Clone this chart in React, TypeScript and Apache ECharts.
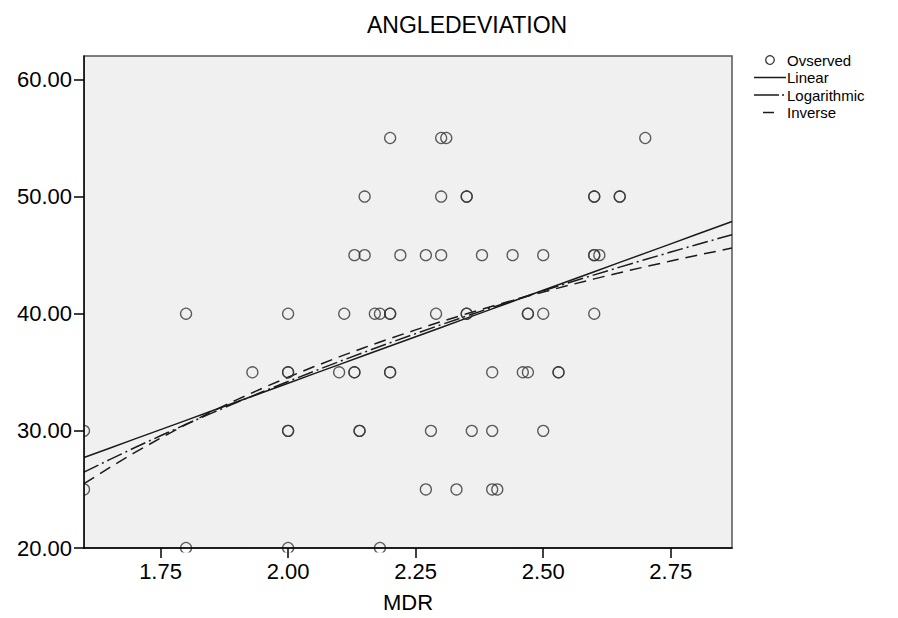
import React, { useEffect, useRef } from "react";
import * as echarts from "echarts";

// Observed points (MDR, ANGLEDEVIATION)
const mdr = [
  2.2, 2.3, 2.31, 2.7,
  2.15, 2.3, 2.35, 2.35, 2.6, 2.6, 2.65, 2.65,
  2.13, 2.15, 2.22, 2.27, 2.3, 2.38, 2.44, 2.5, 2.6, 2.6, 2.61,
  1.8, 2.0, 2.11, 2.17, 2.18, 2.2, 2.2, 2.29, 2.35, 2.35, 2.47, 2.47, 2.5, 2.6,
  1.93, 2.0, 2.0, 2.1, 2.13, 2.13, 2.2, 2.2, 2.4, 2.46, 2.47, 2.53, 2.53,
  1.6, 2.0, 2.0, 2.14, 2.14, 2.28, 2.36, 2.4, 2.5,
  1.6, 2.27, 2.33, 2.4, 2.41,
  1.8, 2.0, 2.18,
];
const angle = [
  55, 55, 55, 55,
  50, 50, 50, 50, 50, 50, 50, 50,
  45, 45, 45, 45, 45, 45, 45, 45, 45, 45, 45,
  40, 40, 40, 40, 40, 40, 40, 40, 40, 40, 40, 40, 40, 40,
  35, 35, 35, 35, 35, 35, 35, 35, 35, 35, 35, 35, 35,
  30, 30, 30, 30, 30, 30, 30, 30, 30,
  25, 25, 25, 25, 25,
  20, 20, 20,
];

const xTicks = [1.75, 2.0, 2.25, 2.5, 2.75];
const yTicks = [20, 30, 40, 50, 60];
const xRange = [1.6, 2.87];
const yRange = [20, 62];

// Fitted curve coefficients (a, b)
const linearCoef = [2.35, 15.86]; // y = a + b*x
const logCoef = [10.17, 34.69]; // y = a + b*ln(x)
const inverseCoef = [70.95, -72.74]; // y = a + b/x

// x positions where the fitted curves are evaluated
const fitX = [
  1.6, 1.65, 1.7, 1.75, 1.8, 1.85, 1.9, 1.95, 2.0, 2.05, 2.1, 2.15, 2.2, 2.25,
  2.3, 2.35, 2.4, 2.45, 2.5, 2.55, 2.6, 2.65, 2.7, 2.75, 2.8, 2.85, 2.87,
];

const legendLabels = ["Ovserved", "Linear", "Logarithmic", "Inverse"];
const titleText = "ANGLEDEVIATION";
const xName = "MDR";

const FONT = "'Liberation Sans', Arial, Helvetica, sans-serif";
const INK = "#1a1a1a";

export default function App() {
  const ref = useRef<HTMLDivElement>(null);

  useEffect(() => {
    if (!ref.current) return;
    const chart = echarts.init(ref.current, undefined, { renderer: "svg" });

    const points = mdr.map((x, i) => [x, angle[i]]);
    const linear = fitX.map((x) => [x, linearCoef[0] + linearCoef[1] * x]);
    const logarithmic = fitX.map((x) => [x, logCoef[0] + logCoef[1] * Math.log(x)]);
    const inverse = fitX.map((x) => [x, inverseCoef[0] + inverseCoef[1] / x]);

    const gLeft = 84;
    const gTop = 56;
    const gRight = 166;
    const gBottom = 66;

    const lx = 787;
    const ly = [60, 77.5, 95, 112.5];
    const legendFont = `15px ${FONT}`;

    chart.setOption({
      animation: false,
      backgroundColor: "#ffffff",
      title: {
        text: titleText,
        left: 367,
        top: 13,
        padding: 0,
        textStyle: { fontSize: 23, fontWeight: "normal", color: "#000", fontFamily: FONT },
      },
      grid: {
        left: gLeft,
        top: gTop,
        right: gRight,
        bottom: gBottom,
        show: true,
        backgroundColor: "#f0f0f0",
        borderColor: "#555555",
        borderWidth: 1.5,
      },
      xAxis: {
        type: "value",
        min: xRange[0],
        max: xRange[1],
        z: 6,
        name: xName,
        nameLocation: "middle",
        nameGap: 43,
        nameTextStyle: { fontSize: 22, color: "#000", fontFamily: FONT },
        axisLine: { show: true, lineStyle: { color: "#000", width: 1.5 } },
        axisTick: {
          show: true,
          length: 10,
          customValues: xTicks,
          lineStyle: { color: "#000", width: 1.5 },
        },
        axisLabel: {
          customValues: xTicks,
          margin: 12,
          fontSize: 22,
          color: "#000",
          fontFamily: FONT,
          formatter: (v: number) => v.toFixed(2),
        },
        splitLine: { show: false },
      },
      yAxis: {
        type: "value",
        min: yRange[0],
        max: yRange[1],
        z: 6,
        axisLine: { show: true, lineStyle: { color: "#000", width: 1.5 } },
        axisTick: {
          show: true,
          length: 10,
          customValues: yTicks,
          lineStyle: { color: "#000", width: 1.5 },
        },
        axisLabel: {
          customValues: yTicks,
          margin: 12,
          fontSize: 22,
          color: "#000",
          fontFamily: FONT,
          formatter: (v: number) => v.toFixed(2),
        },
        splitLine: { show: false },
      },
      series: [
        {
          name: legendLabels[0],
          type: "scatter",
          data: points,
          symbol: "circle",
          symbolSize: 11,
          z: 2,
          itemStyle: { color: "rgba(0,0,0,0)", borderColor: "#333", borderWidth: 1.3 },
        },
        {
          name: legendLabels[1],
          type: "line",
          data: linear,
          showSymbol: false,
          smooth: false,
          z: 2,
          lineStyle: { color: INK, width: 1.5, type: "solid" },
        },
        {
          name: legendLabels[2],
          type: "line",
          data: logarithmic,
          showSymbol: false,
          z: 2,
          lineStyle: { color: INK, width: 1.5, type: [16, 4, 2, 4] },
        },
        {
          name: legendLabels[3],
          type: "line",
          data: inverse,
          showSymbol: false,
          z: 2,
          lineStyle: { color: INK, width: 1.5, type: [12, 7] },
        },
      ],
      graphic: [
        // white masks outside the plot area (so edge circles are half cut)
        {
          type: "rect",
          z: 4,
          silent: true,
          shape: { x: 0, y: 0, width: gLeft - 0.5, height: 618 },
          style: { fill: "#ffffff" },
        },
        {
          type: "rect",
          z: 4,
          silent: true,
          shape: { x: 0, y: 618 - gBottom + 0.5, width: 898, height: gBottom },
          style: { fill: "#ffffff" },
        },
        // legend
        {
          type: "circle",
          z: 7,
          shape: { cx: 770, cy: ly[0], r: 4.3 },
          style: { fill: "rgba(0,0,0,0)", stroke: "#333", lineWidth: 1.3 },
        },
        {
          type: "text",
          z: 7,
          x: lx,
          y: ly[0],
          style: { text: legendLabels[0], font: legendFont, fill: "#000", verticalAlign: "middle" },
        },
        {
          type: "line",
          z: 7,
          shape: { x1: 754, y1: ly[1], x2: 786, y2: ly[1] },
          style: { stroke: INK, lineWidth: 1.5 },
        },
        {
          type: "text",
          z: 7,
          x: lx,
          y: ly[1],
          style: { text: legendLabels[1], font: legendFont, fill: "#000", verticalAlign: "middle" },
        },
        {
          type: "line",
          z: 7,
          shape: { x1: 754, y1: ly[2], x2: 779, y2: ly[2] },
          style: { stroke: INK, lineWidth: 1.5 },
        },
        {
          type: "line",
          z: 7,
          shape: { x1: 782, y1: ly[2], x2: 784, y2: ly[2] },
          style: { stroke: INK, lineWidth: 1.5 },
        },
        {
          type: "text",
          z: 7,
          x: lx,
          y: ly[2],
          style: { text: legendLabels[2], font: legendFont, fill: "#000", verticalAlign: "middle" },
        },
        {
          type: "line",
          z: 7,
          shape: { x1: 763, y1: ly[3], x2: 774, y2: ly[3] },
          style: { stroke: INK, lineWidth: 1.5 },
        },
        {
          type: "text",
          z: 7,
          x: lx,
          y: ly[3],
          style: { text: legendLabels[3], font: legendFont, fill: "#000", verticalAlign: "middle" },
        },
      ],
    });

    return () => {
      chart.dispose();
    };
  }, []);

  return (
    <div
      ref={ref}
      style={{ position: "fixed", left: 0, top: 0, width: 898, height: 618, background: "#fff" }}
    />
  );
}
